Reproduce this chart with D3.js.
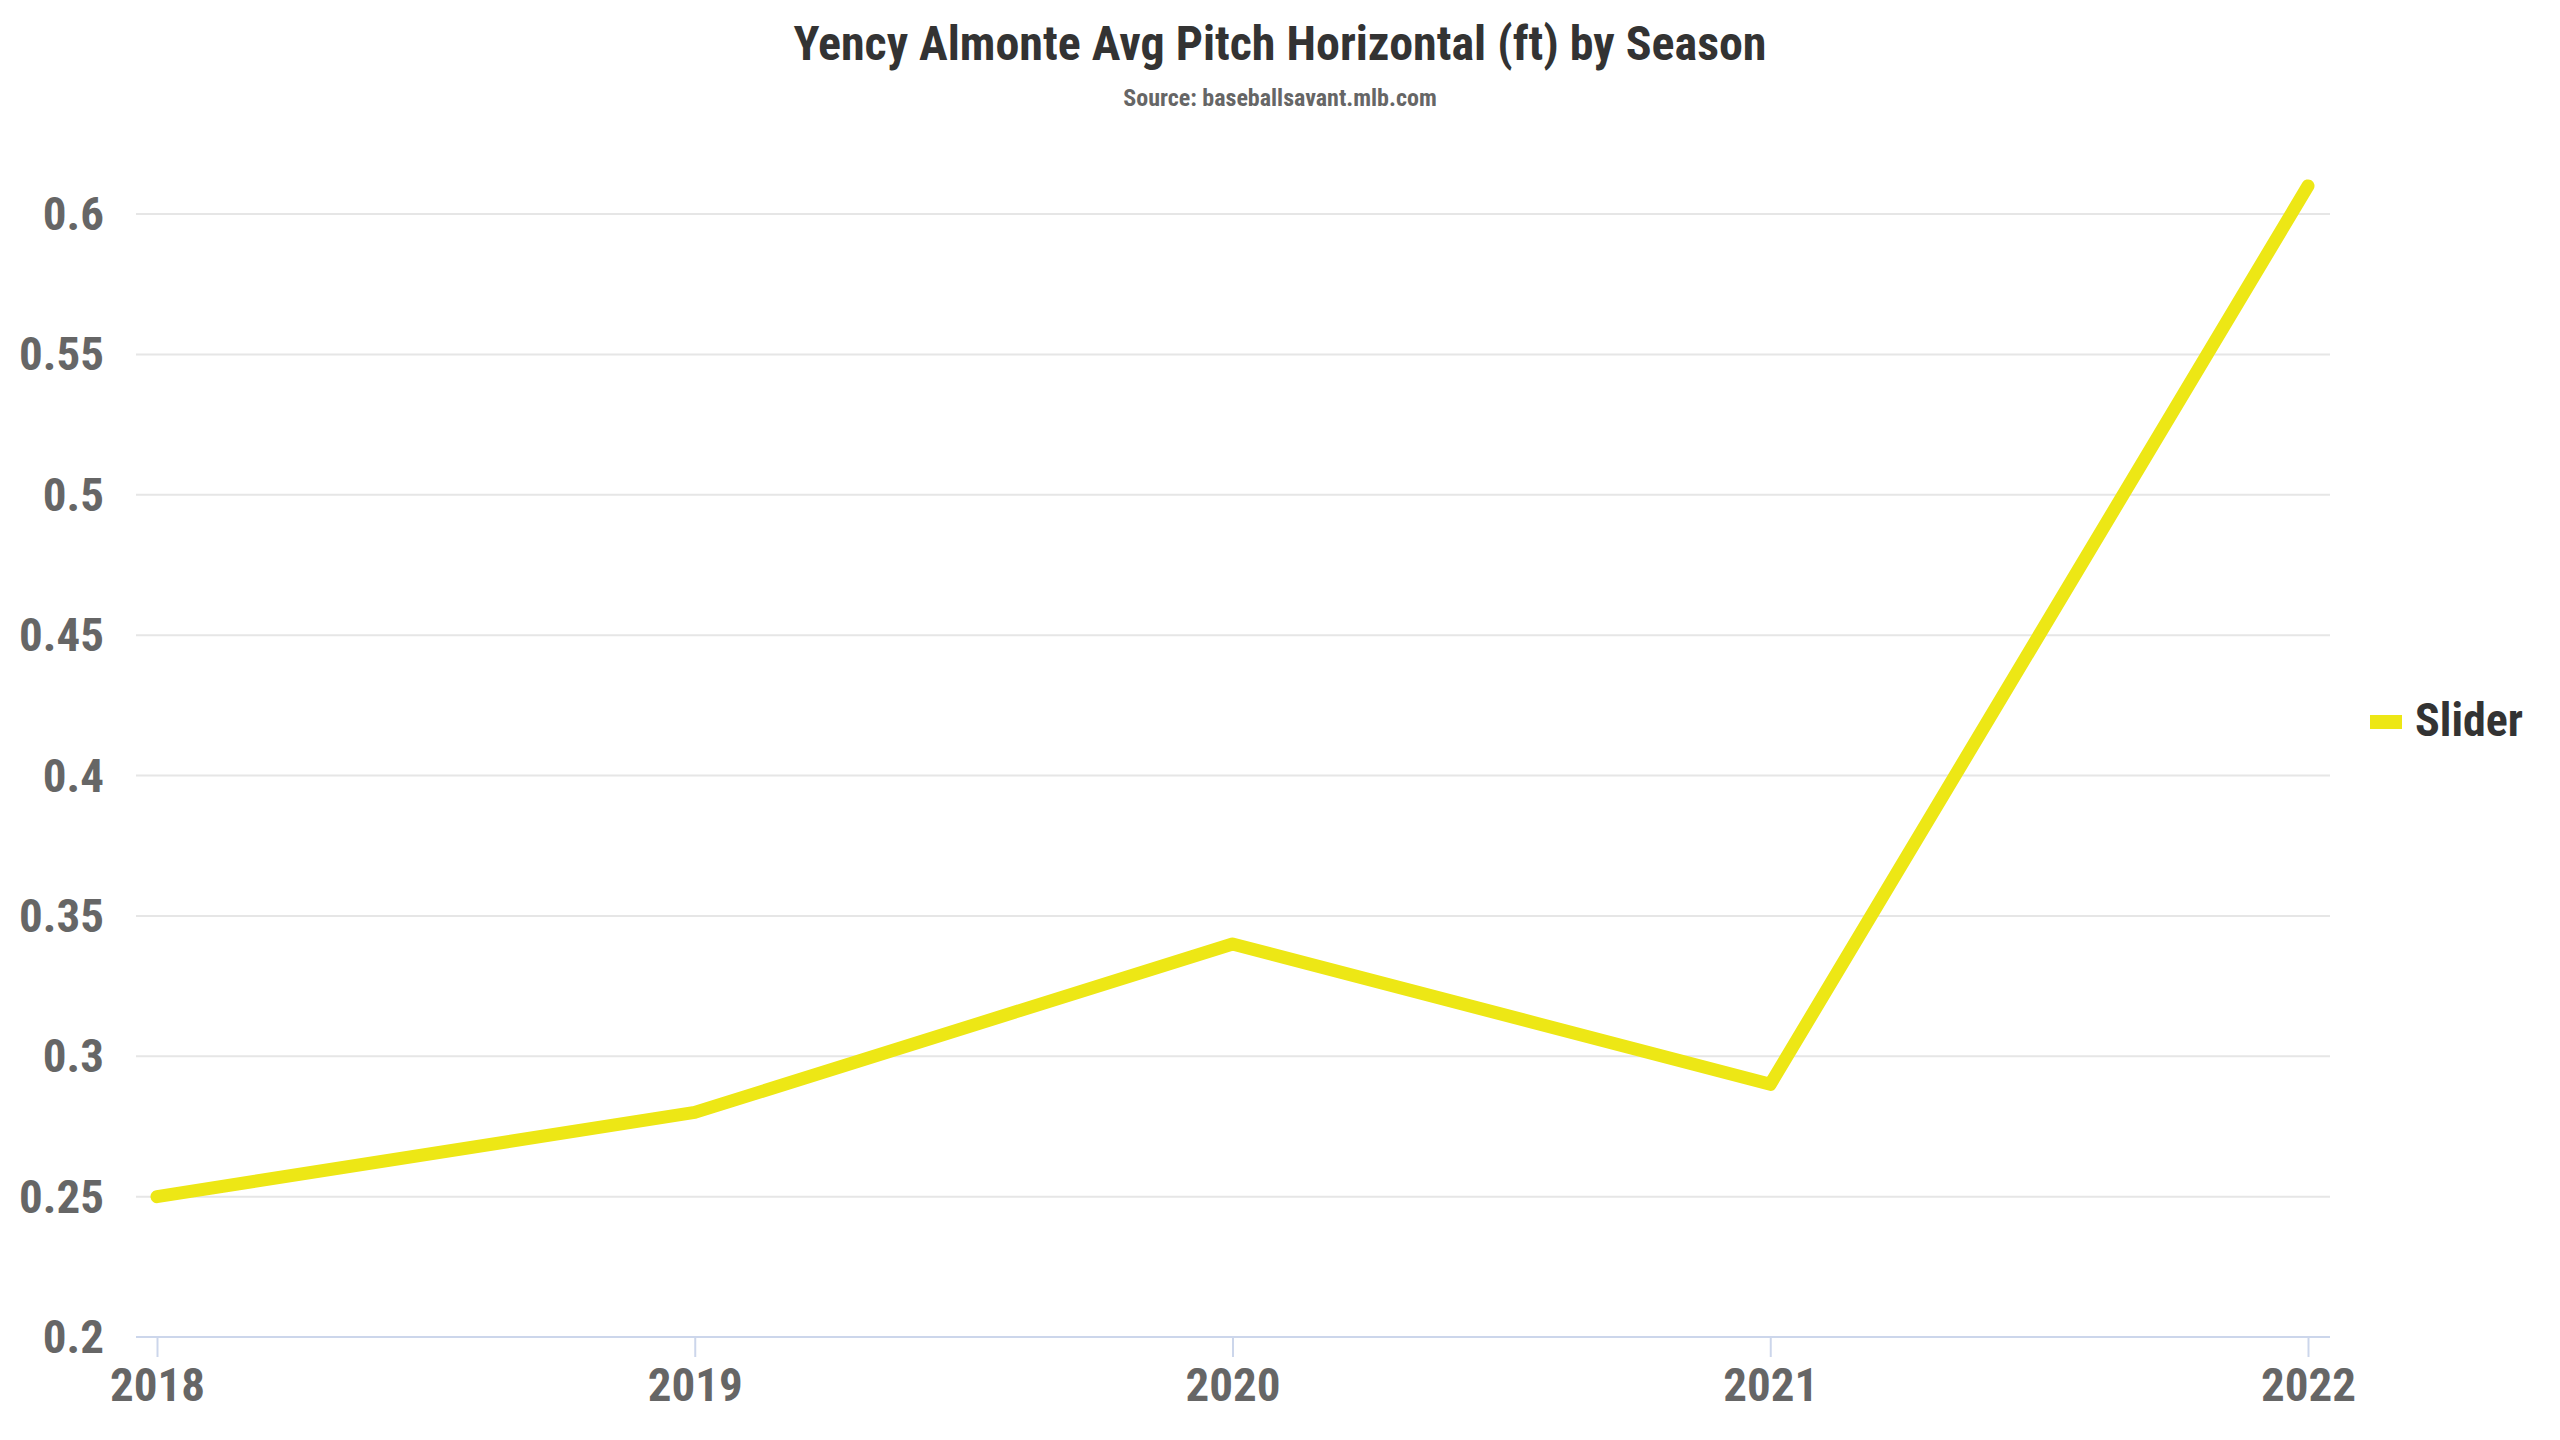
<!DOCTYPE html>
<html>
<head>
<meta charset="utf-8">
<script src="https://cdn.jsdelivr.net/npm/d3@7"></script>
<style>
  body { margin: 0; background: #fff; }
  text { font-family: "Roboto Condensed", "Roboto", sans-serif; font-weight: 700; }
  .grid line { stroke: #e6e6e6; stroke-width: 2; }
  .grid path { display: none; }
</style>
</head>
<body>
<div class="infographic"></div>
<script>
var seasons = [2018, 2019, 2020, 2021, 2022];
var slider = [0.25, 0.28, 0.34, 0.29, 0.61];
var yTicks = [0.2, 0.25, 0.3, 0.35, 0.4, 0.45, 0.5, 0.55, 0.6];
var seriesName = "Slider";
var lineColor = "#ede715";

var width = 2560, height = 1440;
var margin = {top: 214, right: 230, bottom: 103, left: 136};
var innerW = width - margin.left - margin.right,
    innerH = height - margin.top - margin.bottom;

var svg = d3.select(".infographic")
            .append("svg")
            .attr("width", width)
            .attr("height", height);

svg.append("rect").attr("width", width).attr("height", height).attr("fill", "#fff");

svg.append("text")
   .attr("x", width / 2).attr("y", 60)
   .attr("text-anchor", "middle")
   .style("font-size", "48px").style("fill", "#333")
   .text("Yency Almonte Avg Pitch Horizontal (ft) by Season");

svg.append("text")
   .attr("x", width / 2).attr("y", 106)
   .attr("text-anchor", "middle")
   .style("font-size", "24px").style("fill", "#666")
   .text("Source: baseballsavant.mlb.com");

var g = svg.append("g").attr("transform", "translate(" + margin.left + "," + margin.top + ")");

// points sit ~21px in from the plot edges
var x = d3.scaleLinear()
          .domain([seasons[0], seasons[seasons.length - 1]])
          .range([21, innerW - 22]);

var y = d3.scaleLinear()
          .domain([0.2, 0.6])
          .range([innerH, 0]);

// horizontal grid
g.append("g")
 .attr("class", "grid")
 .selectAll("line")
 .data(yTicks.slice(1))
 .enter().append("line")
 .attr("x1", 0).attr("x2", innerW)
 .attr("y1", function(d){ return y(d); })
 .attr("y2", function(d){ return y(d); });

// y labels
var yAxis = g.append("g")
 .call(d3.axisLeft(y).tickValues(yTicks).tickFormat(d3.format("")).tickSize(0).tickPadding(32));
yAxis.select(".domain").remove();
yAxis.selectAll("text")
 .style("font-size", "47px").style("fill", "#666")
 .attr("dy", "0.33em");

// x axis
var xAxis = g.append("g")
 .attr("transform", "translate(0," + innerH + ")")
 .call(d3.axisBottom(x).tickValues(seasons).tickFormat(d3.format("d")).tickSize(20).tickSizeOuter(0).tickPadding(11));
xAxis.select(".domain")
 .attr("d", "M0,0H" + innerW)
 .style("stroke", "#ccd6eb").style("stroke-width", 2);
xAxis.selectAll(".tick line").style("stroke", "#ccd6eb").style("stroke-width", 2);
xAxis.selectAll("text")
 .style("font-size", "47px").style("fill", "#666")
 .attr("dy", "0.71em");

var line = d3.line()
  .x(function(d, i){ return x(seasons[i]); })
  .y(function(d){ return y(d); });

g.append("path")
 .datum(slider)
 .attr("d", line)
 .attr("fill", "none")
 .attr("stroke", lineColor)
 .attr("stroke-width", 13)
 .attr("stroke-linejoin", "round")
 .attr("stroke-linecap", "round");

// legend
var legend = svg.append("g")
 .attr("transform", "translate(2370," + (height / 2) + ")");
legend.append("rect")
 .attr("x", 0).attr("y", -5).attr("width", 32).attr("height", 14)
 .attr("fill", lineColor);
legend.append("text")
 .attr("x", 45).attr("y", 16)
 .style("font-size", "46px").style("fill", "#333")
 .text(seriesName);
</script>
</body>
</html>
